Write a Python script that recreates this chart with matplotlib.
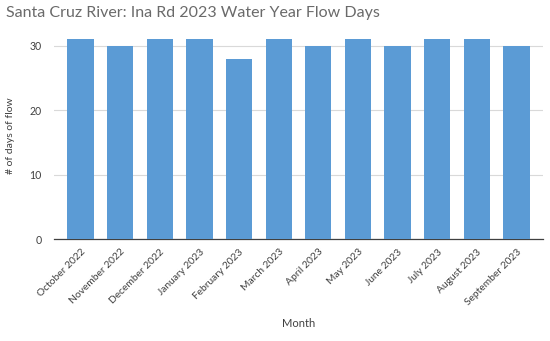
import matplotlib.pyplot as plt
import numpy as np

months = ["October 2022", "November 2022", "December 2022", "January 2023",
          "February 2023", "March 2023", "April 2023", "May 2023",
          "June 2023", "July 2023", "August 2023", "September 2023"]
flow_days = [31, 30, 31, 31, 28, 31, 30, 31, 30, 31, 31, 30]

plt.rcParams['font.family'] = ['Lato', 'DejaVu Sans']

fig = plt.figure(figsize=(5.5, 3.41), dpi=100)
# plot area: 0 line at y=239 px, 30 gridline near 46 px
ax = fig.add_axes([54 / 550, 102 / 341, 489 / 550, 206 / 341])

x = np.arange(len(months))
ax.bar(x, flow_days, width=0.66, color="#5b9bd5", zorder=3)

ax.set_xlim(-0.67, len(months) - 0.33)
ax.set_ylim(0, 32)
ax.set_yticks([0, 10, 20, 30])
ax.set_xticks(x)
ax.set_xticklabels(months, rotation=45, ha="right", rotation_mode="anchor",
                   fontsize=7.4, color="#404040")
ax.tick_params(axis="y", labelsize=7.6, labelcolor="#404040", length=0, pad=9)
ax.tick_params(axis="x", length=0, pad=6)
ax.grid(axis="y", color="#d9d9d9", linewidth=0.8, zorder=0)

for side in ["top", "right", "left"]:
    ax.spines[side].set_visible(False)
ax.spines["bottom"].set_color("#404040")
ax.spines["bottom"].set_linewidth(0.9)

ax.set_ylabel("# of days of flow", fontsize=7.5, color="#404040", labelpad=10)
ax.set_xlabel("Month", fontsize=8, color="#404040", labelpad=8)

fig.text(6 / 550, 1 - 13 / 341, "Santa Cruz River: Ina Rd 2023 Water Year Flow Days",
         fontsize=11.5, color="#6a6a6a", va="center", ha="left")

fig.savefig("out.png", dpi=100)
